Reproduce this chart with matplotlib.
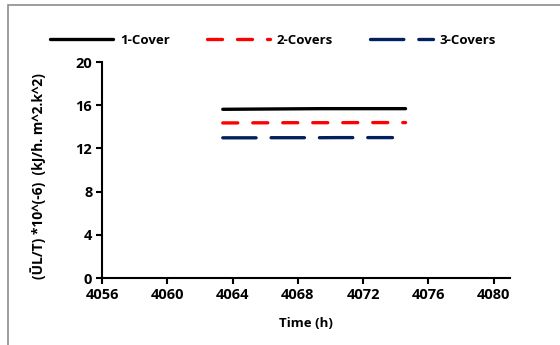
import matplotlib
matplotlib.use("Agg")
import matplotlib.pyplot as plt
from matplotlib.patches import Rectangle

time_1 = [4063.4, 4064.4, 4065.4, 4066.4, 4067.4, 4068.4, 4069.4, 4070.4, 4071.4, 4072.4, 4073.4, 4074.6]
cover1 = [15.62, 15.63, 15.64, 15.65, 15.66, 15.67, 15.68, 15.68, 15.68, 15.68, 15.68, 15.68]
cover2 = [14.36, 14.36, 14.37, 14.37, 14.38, 14.38, 14.38, 14.38, 14.39, 14.39, 14.39, 14.39]
time_3 = [4063.4, 4064.4, 4065.4, 4066.4, 4067.4, 4068.4, 4069.4, 4070.4, 4071.4, 4072.4, 4073.8]
cover3 = [12.98, 12.98, 12.98, 12.99, 12.99, 12.99, 12.99, 13.0, 13.0, 13.0, 13.0]

x_ticks = [4056, 4060, 4064, 4068, 4072, 4076, 4080]
y_ticks = [0, 4, 8, 12, 16, 20]

plt.rcParams['font.family'] = ['Open Sans', 'DejaVu Sans']
plt.rcParams['font.weight'] = 'bold'

fig = plt.figure(figsize=(5.6, 3.45), dpi=100)
fig.patches.append(Rectangle((8/560, -0.01), 1.0, 1.0 - 5/345 + 0.01, transform=fig.transFigure,
                             fill=False, edgecolor='#8c8c8c', linewidth=1.2))
ax = fig.add_axes([102/560, 67/345, 408/560, 216/345])

l1, = ax.plot(time_1, cover1, color='black', lw=2.4, solid_capstyle='round', label='1-Cover')
l2, = ax.plot(time_1, cover2, color='#ff0000', lw=2.4, dashes=(4.5, 4.5), dash_capstyle='round', label='2-Covers')
l3, = ax.plot(time_3, cover3, color='#002060', lw=2.4, dashes=(10, 4.5), dash_capstyle='round', label='3-Covers')

ax.set_xlim(4056, 4081)
ax.set_ylim(0, 20)
ax.set_xticks(x_ticks)
ax.set_yticks(y_ticks)
for s in ['top', 'right']:
    ax.spines[s].set_visible(False)
for s in ['left', 'bottom']:
    ax.spines[s].set_linewidth(1.5)
ax.tick_params(direction='out', length=4, width=1.5, labelsize=10.5, pad=3)
for lab in ax.get_xticklabels() + ax.get_yticklabels():
    lab.set_fontweight('bold')

ax.set_xlabel('Time (h)', fontsize=9.5, fontweight='bold', labelpad=11)
fig.text(38/560, 1 - 176/345, '(ŪL/T) *10^(-6)  (kJ/h. m^2.k^2)', rotation=90,
         ha='center', va='center', fontsize=10, fontweight='bold')

fig.legend(handles=[l1, l2, l3], loc='center left', bbox_to_anchor=(50/560, 1 - 40/345), ncol=3,
           frameon=False, handlelength=4.8, columnspacing=2.8, handletextpad=0.5, borderpad=0,
           borderaxespad=0, prop={'weight': 'bold', 'size': 9.5})

fig.savefig('out.png', dpi=100)
